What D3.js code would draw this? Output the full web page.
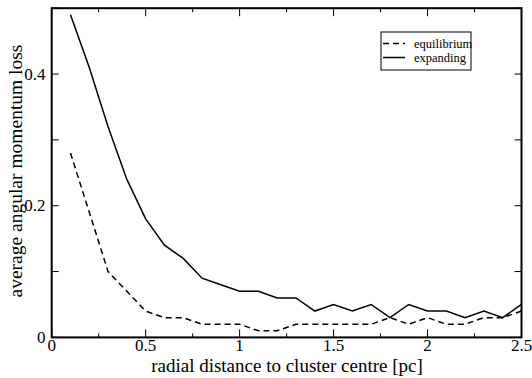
<!DOCTYPE html>
<html><head><meta charset="utf-8">
<script src="https://cdn.jsdelivr.net/npm/d3@7"></script>
<style>body{margin:0;background:#fff}svg{display:block}</style>
</head><body><svg id="c" width="532" height="378"></svg>
<script>
const radius = [0.1,0.2,0.3,0.4,0.5,0.6,0.7,0.8,0.9,1.0,1.1,1.2,1.3,1.4,1.5,1.6,1.7,1.8,1.9,2.0,2.1,2.2,2.3,2.4,2.5];
const equilibrium = [0.28,0.19,0.10,0.07,0.04,0.03,0.03,0.02,0.02,0.02,0.01,0.01,0.02,0.02,0.02,0.02,0.02,0.03,0.02,0.03,0.02,0.02,0.03,0.03,0.04];
const expanding = [0.49,0.41,0.32,0.24,0.18,0.14,0.12,0.09,0.08,0.07,0.07,0.06,0.06,0.04,0.05,0.04,0.05,0.03,0.05,0.04,0.04,0.03,0.04,0.03,0.05];
const xTicks = [0,0.5,1,1.5,2,2.5];
const xTickLabels = ["0","0.5","1","1.5","2","2.5"];
const yTicks = [0,0.2,0.4];
const yTickLabels = ["0","0.2","0.4"];
const seriesNames = ["equilibrium","expanding"];

const FONT = "Liberation Serif, DejaVu Serif, serif";
const svg = d3.select("#c");
const L=51.7, R=521.5, T=8.2, B=337.4;
const x = d3.scaleLinear().domain([0,2.5]).range([L,R]);
const y = d3.scaleLinear().domain([0,0.5]).range([B,T]);

const g = svg.append("g");
d3.range(0,2.51,0.25).forEach(v=>{
  const major = Math.abs(v/0.5-Math.round(v/0.5))<1e-6;
  const len = major?8:4;
  g.append("line").attr("x1",x(v)).attr("x2",x(v)).attr("y1",B).attr("y2",B-len).attr("stroke","#000").attr("stroke-width",1);
  g.append("line").attr("x1",x(v)).attr("x2",x(v)).attr("y1",T).attr("y2",T+len).attr("stroke","#000").attr("stroke-width",1);
});
d3.range(0,0.51,0.1).forEach(v=>{
  g.append("line").attr("x1",L).attr("x2",L+7).attr("y1",y(v)).attr("y2",y(v)).attr("stroke","#000").attr("stroke-width",1);
  g.append("line").attr("x1",R).attr("x2",R-7).attr("y1",y(v)).attr("y2",y(v)).attr("stroke","#000").attr("stroke-width",1);
});

xTicks.forEach((v,i)=>{
  svg.append("text").style("font-family",FONT).attr("x",x(v)).attr("y",351).attr("text-anchor","middle").style("font-size","17px").text(xTickLabels[i]);
});
yTicks.forEach((v,i)=>{
  svg.append("text").style("font-family",FONT).attr("x",45.5).attr("y",y(v)+5.5).attr("text-anchor","end").style("font-size","17px").text(yTickLabels[i]);
});

const line = d3.line().x((d,i)=>x(radius[i])).y(d=>y(d));
svg.append("path").datum(equilibrium).attr("d",line).attr("fill","none").attr("stroke","#000").attr("stroke-width",1.5).attr("stroke-dasharray","6,4");
svg.append("path").datum(expanding).attr("d",line).attr("fill","none").attr("stroke","#000").attr("stroke-width",1.5);

svg.append("rect").attr("x",L).attr("y",T).attr("width",R-L).attr("height",B-T).attr("fill","none").attr("stroke","#000").attr("stroke-width",2);

svg.append("text").style("font-family",FONT).attr("x",287).attr("y",372).attr("text-anchor","middle").style("font-size","19px").text("radial distance to cluster centre [pc]");
svg.append("text").style("font-family",FONT).attr("transform",`translate(22,171) rotate(-90)`).attr("text-anchor","middle").style("font-size","19.5px").text("average angular momentum loss");

const lg = svg.append("g");
lg.append("rect").attr("x",381).attr("y",32).attr("width",90).attr("height",38).attr("fill","#fff").attr("stroke","#000").attr("stroke-width",1);
const dashes=["6,4",null];
seriesNames.forEach((n,i)=>{
  const yy = 43.5+i*14;
  const l = lg.append("line").attr("x1",383).attr("x2",405).attr("y1",yy).attr("y2",yy).attr("stroke","#000").attr("stroke-width",1.5);
  if(dashes[i]) l.attr("stroke-dasharray",dashes[i]);
  lg.append("text").style("font-family",FONT).attr("x",414).attr("y",yy+4).style("font-size","12.5px").text(n);
});
</script></body></html>
